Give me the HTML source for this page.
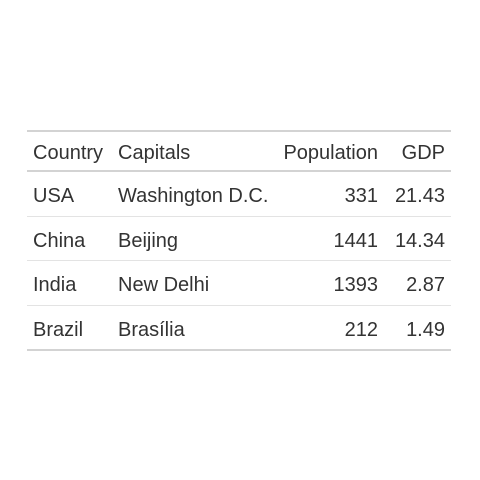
<!DOCTYPE html>
<html><head><meta charset="utf-8"><style>
body{margin:0;width:480px;height:480px;background:#fff;position:relative;overflow:hidden;font-family:"Liberation Sans",sans-serif;color:#333;}
.l{position:absolute;left:27px;width:424px;background:#d3d3d3;}
.t{position:absolute;font-size:20px;line-height:20px;white-space:nowrap;}
.r{text-align:right;}
</style></head><body>
<div>
<div class="l" style="top:130px;height:2px"></div>
<div class="l" style="top:170px;height:2px"></div>
<div class="l" style="top:216px;height:1px;background:#e3e3e3"></div>
<div class="l" style="top:260px;height:1px;background:#e3e3e3"></div>
<div class="l" style="top:305px;height:1px;background:#e3e3e3"></div>
<div class="l" style="top:349px;height:2px"></div>
<div id="cells"></div>
</div>
<script>
const headers=["Country","Capitals","Population","GDP"];
const countries=["USA","China","India","Brazil"];
const capitals=["Washington D.C.","Beijing","New Delhi","Brasília"];
const population=["331","1441","1393","212"];
const gdp=["21.43","14.34","2.87","1.49"];
const cont=document.getElementById('cells');
function cell(txt,y,col,name){
  const d=document.createElement('div');
  d.className='t';
  d.textContent=txt;
  d.style.top=(y-9)+'px';
  if(col===0){d.style.left='33px';}
  else if(col===1){d.style.left='118px';}
  else if(col===2){d.className='t r';d.style.right=(480-378)+'px';}
  else {d.className='t r';d.style.right=(480-445)+'px';}
  
  
  cont.appendChild(d);
}
headers.forEach((h,i)=>cell(h,152,i,'column-header'));
const cols=[countries,capitals,population,gdp];
for(let r=0;r<countries.length;r++){
  const y=195+r*44.5;
  cols.forEach((c,i)=>cell(c[r],y,i,'table-cell'));
}
</script>
</body></html>
